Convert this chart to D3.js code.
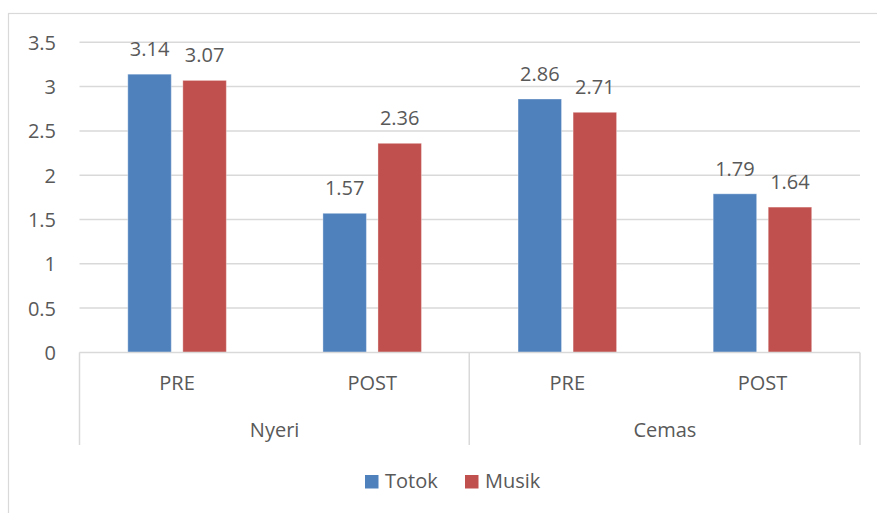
<!DOCTYPE html>
<html>
<head>
<meta charset="utf-8">
<script src="https://cdn.jsdelivr.net/npm/d3@7/dist/d3.min.js"></script>
<style>
  html, body { margin: 0; padding: 0; background: #fff; }
  svg text { font-family: "Open Sans", sans-serif; fill: #595959; }
</style>
</head>
<body>
<svg id="chart" width="877" height="513"></svg>
<script>
const groups = ["Nyeri", "Cemas"];
const phases = ["PRE", "POST"];
const categories = ["Nyeri|PRE", "Nyeri|POST", "Cemas|PRE", "Cemas|POST"];
const seriesNames = ["Totok", "Musik"];
const totok = [3.14, 1.57, 2.86, 1.79];
const musik = [3.07, 2.36, 2.71, 1.64];
const yTicks = [0, 0.5, 1, 1.5, 2, 2.5, 3, 3.5];
const colors = ["#4F81BD", "#C0504D"];

const svg = d3.select("#chart");
const plotLeft = 79.5, plotRight = 860, plotTop = 42.3, plotBottom = 352.4;

// outer border
svg.append("rect").attr("x", 8.5).attr("y", 13.5).attr("width", 880).attr("height", 520)
  .attr("fill", "none").attr("stroke", "#D9D9D9").attr("stroke-width", 1.2);

const y = d3.scaleLinear().domain([0, 3.5]).range([plotBottom, plotTop]);
const x0 = d3.scaleBand().domain(categories).range([plotLeft, plotRight]).paddingInner(0.495).paddingOuter(0.2475);
const x1 = d3.scaleBand().domain(seriesNames).range([0, x0.bandwidth()]).paddingInner(0.21);

// gridlines
svg.append("g").selectAll("line").data(yTicks.filter(d => d > 0)).join("line")
  .attr("x1", plotLeft).attr("x2", plotRight).attr("y1", d => y(d)).attr("y2", d => y(d))
  .attr("stroke", "#D9D9D9").attr("stroke-width", 1.5);

// y axis labels
const yAxis = d3.axisLeft(y).tickValues(yTicks).tickSize(0).tickPadding(0).tickFormat(d => String(d));
const ya = svg.append("g").attr("transform", "translate(56,0)").call(yAxis);
ya.select(".domain").remove();
ya.selectAll("text").style("font-size", "20px").attr("fill", "#595959").attr("dy", "0.35em")
  .attr("font-family", "Open Sans");

// bars
const data = categories.map((c, i) => ({ cat: c, vals: [totok[i], musik[i]] }));
const gBars = svg.append("g");
data.forEach(d => {
  d.vals.forEach((v, j) => {
    const bx = x0(d.cat) + x1(seriesNames[j]);
    gBars.append("rect")
      .attr("x", bx).attr("y", y(v)).attr("width", x1.bandwidth()).attr("height", y(0) - y(v))
      .attr("fill", colors[j]).attr("stroke", "#ffffff").attr("stroke-opacity", 0.35).attr("stroke-width", 1);
    gBars.append("text")
      .attr("x", bx + x1.bandwidth() / 2).attr("y", y(v) - 18)
      .attr("text-anchor", "middle").style("font-size", "20px").text(v.toFixed(2));
  });
});

// category axis
const axisColor = "#D9D9D9";
svg.append("line").attr("x1", plotLeft).attr("x2", plotRight).attr("y1", plotBottom).attr("y2", plotBottom)
  .attr("stroke", axisColor).attr("stroke-width", 1.5);
const dividers = [plotLeft, (plotLeft + plotRight) / 2 - 0.5, plotRight];
svg.append("g").selectAll("line").data(dividers).join("line")
  .attr("x1", d => d).attr("x2", d => d).attr("y1", plotBottom).attr("y2", 445)
  .attr("stroke", axisColor).attr("stroke-width", 1.5);

svg.append("g").selectAll("text").data(categories).join("text")
  .attr("x", d => x0(d) + x0.bandwidth() / 2).attr("y", 390)
  .attr("text-anchor", "middle").style("font-size", "20px").text(d => d.split("|")[1]);

const gw = (plotRight - plotLeft) / groups.length;
svg.append("g").selectAll("text").data(groups).join("text")
  .attr("x", (d, i) => plotLeft + gw * i + gw / 2).attr("y", 437)
  .attr("text-anchor", "middle").style("font-size", "20px").text(d => d);

// legend
const legendItems = [{ name: "Totok", x: 365 }, { name: "Musik", x: 465 }];
const lg = svg.append("g");
legendItems.forEach((it, i) => {
  lg.append("rect").attr("x", it.x).attr("y", 475).attr("width", 13.5).attr("height", 13.5).attr("fill", colors[i]);
  lg.append("text").attr("x", it.x + 20).attr("y", 488).style("font-size", "20px").text(seriesNames[i]);
});
</script>
</body>
</html>
